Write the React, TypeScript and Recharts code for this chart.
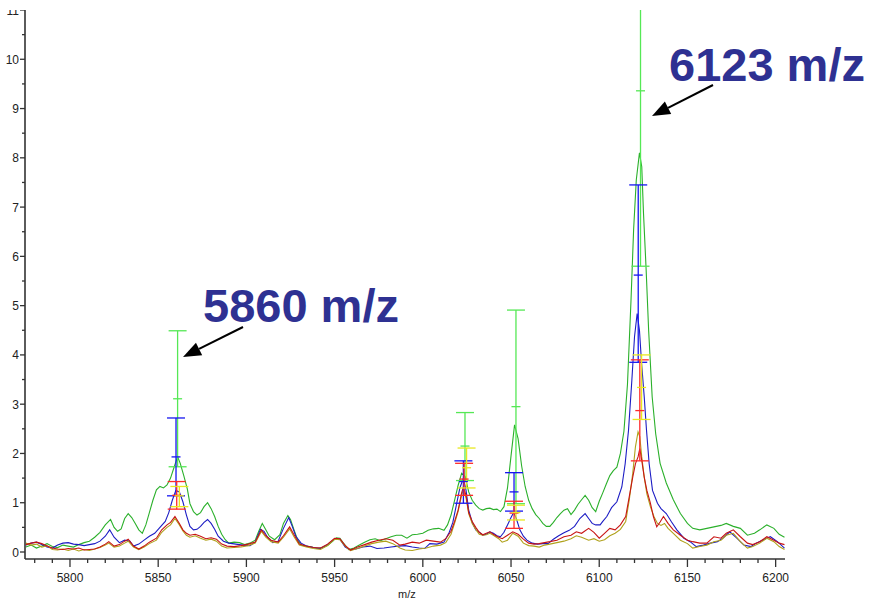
import React from "react";
import { ComposedChart, Line, Scatter, ErrorBar, XAxis, YAxis } from "recharts";

// ---- Data (m/z, intensity) ----
const greenSeries: [number, number][] = [
  [5775,0.10],[5778,0.14],[5781,0.08],[5784,0.12],[5787,0.17],[5790,0.11],[5793,0.09],[5796,0.14],[5799,0.12],
  [5802,0.10],[5805,0.15],[5808,0.19],[5811,0.22],[5814,0.30],[5817,0.40],[5820,0.55],[5823,0.66],[5825,0.50],
  [5827,0.42],[5829,0.47],[5831,0.68],[5833,0.78],[5835,0.70],[5837,0.58],[5839,0.45],[5841,0.38],[5843,0.55],
  [5845,0.80],[5847,1.05],[5849,1.26],[5851,1.33],[5853,1.30],[5855,1.36],[5857,1.50],[5859,1.72],[5861,1.93],
  [5862.5,1.80],[5864.5,1.55],[5866.5,1.28],[5868,0.98],[5870,0.82],[5872,0.75],[5874,0.80],[5876,0.92],[5878,1.00],
  [5880,0.88],[5882,0.72],[5884,0.52],[5886,0.36],[5888,0.25],[5890,0.18],[5893,0.20],[5896,0.19],[5899,0.15],
  [5902,0.18],[5905,0.24],[5907,0.42],[5909,0.58],[5911,0.45],[5913,0.32],[5916,0.25],[5919,0.35],[5921,0.58],
  [5923.5,0.74],[5925,0.66],[5927,0.45],[5929,0.25],[5931,0.14],[5934,0.12],[5937,0.10],[5940,0.07],[5943,0.09],
  [5946,0.13],[5949,0.22],[5951,0.29],[5953,0.28],[5955,0.18],[5958,0.05],[5961,0.08],[5964,0.14],[5967,0.20],
  [5970,0.25],[5973,0.27],[5976,0.23],[5979,0.27],[5982,0.31],[5985,0.34],[5988,0.34],[5991,0.28],[5994,0.35],
  [5997,0.36],[6000,0.38],[6003,0.44],[6006,0.47],[6009,0.48],[6012,0.44],[6014,0.55],[6016,0.75],[6018,1.05],
  [6020,1.35],[6022,1.60],[6024,1.53],[6026,1.22],[6028,1.05],[6030,0.95],[6032,0.88],[6034,0.85],[6036,0.88],
  [6038,0.89],[6040,0.86],[6042,0.87],[6044,0.82],[6046,0.92],[6048,1.30],[6050,1.95],[6052,2.58],[6054,2.30],
  [6056,1.75],[6058,1.33],[6060,1.05],[6062,0.88],[6064,0.76],[6066,0.68],[6068,0.58],[6070,0.52],[6072,0.52],
  [6074,0.60],[6076,0.70],[6078,0.78],[6080,0.85],[6082,0.88],[6084,0.76],[6086,0.85],[6088,0.97],[6090,1.06],
  [6092,1.15],[6094,1.05],[6096,0.90],[6098,0.82],[6100,1.03],[6102,1.20],[6104,1.38],[6106,1.55],[6108,1.65],
  [6110,1.72],[6112,2.00],[6114,2.45],[6116,3.40],[6118,5.10],[6119.5,6.55],[6121,7.55],[6122.8,8.10],[6124.1,7.82],
  [6125.1,6.87],[6126.6,5.72],[6128,4.50],[6130,3.15],[6132,2.40],[6134.5,1.80],[6138,1.40],[6142,1.06],[6146,0.78],
  [6150,0.58],[6153,0.48],[6157,0.45],[6161,0.48],[6165,0.51],[6169,0.54],[6172,0.58],[6176,0.52],[6180,0.48],
  [6184,0.34],[6188,0.38],[6191,0.45],[6195,0.55],[6199,0.48],[6202,0.36],[6205,0.30],
];

const blueSeries: [number, number][] = [
  [5775,0.14],[5778,0.18],[5781,0.20],[5784,0.15],[5787,0.10],[5790,0.08],[5793,0.14],[5796,0.18],[5799,0.19],
  [5802,0.16],[5805,0.15],[5808,0.13],[5811,0.15],[5814,0.17],[5817,0.22],[5820,0.32],[5822.5,0.45],[5825,0.30],
  [5828,0.19],[5831,0.24],[5834,0.22],[5836,0.12],[5839,0.16],[5842,0.24],[5845,0.32],[5848,0.38],[5851,0.50],
  [5854,0.62],[5856,0.80],[5858,1.05],[5860,1.25],[5862,1.22],[5864,1.02],[5866,0.75],[5868,0.52],[5870,0.45],
  [5872,0.46],[5874,0.52],[5876,0.60],[5878,0.66],[5880,0.58],[5882,0.46],[5884,0.32],[5887,0.22],[5890,0.18],
  [5894,0.16],[5898,0.14],[5902,0.13],[5905,0.20],[5908,0.46],[5910,0.42],[5912,0.30],[5915,0.19],[5918,0.22],
  [5921,0.48],[5924,0.70],[5926,0.52],[5928,0.32],[5931,0.18],[5934,0.12],[5938,0.09],[5942,0.07],[5946,0.15],
  [5950,0.27],[5953,0.26],[5956,0.10],[5959,0.04],[5962,0.06],[5966,0.10],[5970,0.12],[5974,0.07],[5978,0.08],
  [5982,0.10],[5986,0.12],[5990,0.13],[5994,0.10],[5998,0.08],[6001,0.07],[6004,0.17],[6008,0.16],[6012,0.20],
  [6015,0.40],[6017,0.60],[6019,0.95],[6021,1.30],[6023,1.50],[6024.5,1.25],[6026,0.85],[6028,0.60],[6030,0.45],
  [6032,0.40],[6034,0.34],[6036,0.36],[6038,0.41],[6040,0.38],[6042,0.33],[6044,0.31],[6046,0.40],[6048,0.55],
  [6050,0.70],[6051.5,0.80],[6053,0.68],[6055,0.45],[6057,0.32],[6059,0.24],[6062,0.18],[6065,0.16],[6068,0.17],
  [6071,0.17],[6074,0.26],[6077,0.33],[6080,0.39],[6083,0.44],[6086,0.52],[6089,0.68],[6092,0.78],[6094,0.68],
  [6096,0.58],[6098,0.55],[6100.5,0.55],[6102,0.62],[6104.3,0.72],[6107,0.90],[6110,1.02],[6112.8,1.32],[6114.7,1.79],
  [6116.6,2.47],[6118.5,3.49],[6120,4.37],[6121.5,4.84],[6122.8,4.50],[6124,3.83],[6125.5,3.15],[6126.8,2.47],
  [6128.3,1.79],[6130.2,1.25],[6133,0.99],[6135,0.88],[6138,0.78],[6141,0.61],[6144,0.45],[6148,0.28],[6151.5,0.21],
  [6155,0.11],[6159,0.14],[6163,0.18],[6167,0.21],[6170,0.28],[6174,0.41],[6178,0.28],[6182,0.14],[6186,0.11],
  [6189,0.18],[6193,0.25],[6197,0.31],[6201,0.21],[6205,0.08],
];

const redSeries: [number, number][] = [
  [5775,0.15],[5778,0.18],[5781,0.20],[5784,0.17],[5787,0.12],[5790,0.08],[5793,0.06],[5796,0.05],[5799,0.07],
  [5802,0.06],[5805,0.08],[5808,0.04],[5811,0.05],[5814,0.06],[5817,0.10],[5820,0.16],[5822,0.21],[5825,0.12],
  [5828,0.15],[5831,0.22],[5833,0.26],[5836,0.12],[5839,0.06],[5842,0.12],[5845,0.20],[5849,0.28],[5852,0.45],
  [5855,0.55],[5857,0.60],[5859.5,0.72],[5862,0.58],[5864,0.45],[5866,0.38],[5868,0.34],[5871,0.36],[5874,0.32],
  [5877,0.27],[5880,0.29],[5883,0.26],[5886,0.16],[5889,0.12],[5893,0.11],[5897,0.13],[5901,0.16],[5905,0.20],
  [5908.5,0.45],[5911,0.33],[5914,0.24],[5918,0.20],[5921,0.33],[5924.5,0.51],[5927,0.35],[5930,0.16],[5934,0.12],
  [5938,0.09],[5942,0.08],[5946,0.16],[5950,0.28],[5953,0.27],[5956,0.13],[5959,0.04],[5963,0.10],[5967,0.15],
  [5971,0.20],[5975,0.24],[5979,0.27],[5983,0.24],[5987,0.14],[5990,0.16],[5994,0.20],[5998,0.18],[6002,0.24],
  [6006,0.22],[6010,0.20],[6013,0.27],[6016,0.42],[6018,0.62],[6020,0.85],[6022,1.20],[6023,1.32],[6024.5,1.15],
  [6026,0.80],[6028,0.62],[6030,0.50],[6032,0.40],[6034,0.35],[6036,0.38],[6038,0.41],[6040,0.36],[6043,0.30],
  [6045,0.27],[6048,0.34],[6051,0.41],[6054,0.36],[6057,0.26],[6060,0.18],[6063,0.16],[6066,0.17],[6069,0.19],
  [6072,0.21],[6076,0.24],[6080,0.31],[6084,0.34],[6087,0.41],[6090,0.38],[6094,0.48],[6097,0.40],[6100,0.28],
  [6103,0.38],[6106,0.48],[6109,0.45],[6112,0.55],[6115,0.72],[6117,1.12],[6119,1.52],[6120.5,1.79],[6122,1.93],
  [6123,2.10],[6124.1,1.86],[6125.5,1.52],[6127,1.25],[6129,0.99],[6130.7,0.72],[6132.6,0.51],[6134.5,0.61],
  [6136.4,0.72],[6139,0.58],[6142,0.45],[6146,0.34],[6150,0.24],[6153,0.21],[6157,0.18],[6161,0.18],[6165,0.31],
  [6169,0.28],[6172,0.38],[6176,0.45],[6180,0.31],[6184,0.18],[6187,0.15],[6191,0.21],[6195,0.31],[6199,0.24],
  [6202,0.18],[6205,0.15],
];

const yellowSeries: [number, number][] = [
  [5775,0.18],[5778,0.14],[5781,0.16],[5784,0.10],[5787,0.13],[5790,0.05],[5793,0.04],[5796,0.06],[5799,0.03],
  [5802,0.06],[5805,0.02],[5808,0.05],[5811,0.03],[5814,0.06],[5817,0.09],[5820,0.14],[5822,0.18],[5825,0.10],
  [5828,0.12],[5831,0.18],[5833,0.22],[5836,0.10],[5839,0.05],[5842,0.10],[5845,0.17],[5849,0.24],[5852,0.40],
  [5855,0.50],[5857,0.55],[5859.5,0.68],[5862,0.55],[5864,0.43],[5866,0.34],[5868,0.30],[5871,0.33],[5874,0.28],
  [5877,0.24],[5880,0.26],[5883,0.22],[5886,0.12],[5889,0.08],[5893,0.09],[5897,0.10],[5901,0.13],[5905,0.18],
  [5908.5,0.42],[5911,0.30],[5914,0.21],[5918,0.18],[5921,0.30],[5924.5,0.47],[5927,0.31],[5930,0.14],[5934,0.10],
  [5938,0.07],[5942,0.05],[5946,0.13],[5950,0.26],[5953,0.25],[5956,0.12],[5959,0.03],[5963,0.07],[5967,0.12],
  [5971,0.17],[5975,0.20],[5979,0.22],[5983,0.17],[5987,0.08],[5990,0.04],[5994,0.03],[5998,0.06],[6002,0.08],
  [6006,0.12],[6010,0.14],[6013,0.19],[6016,0.36],[6018,0.58],[6020,0.82],[6022,1.15],[6023,1.27],[6024.5,1.10],
  [6026,0.78],[6028,0.58],[6030,0.46],[6032,0.36],[6034,0.34],[6036,0.35],[6038,0.38],[6040,0.34],[6043,0.27],
  [6045,0.20],[6048,0.24],[6051,0.38],[6054,0.32],[6057,0.18],[6060,0.13],[6063,0.12],[6066,0.10],[6069,0.14],
  [6072,0.16],[6076,0.19],[6080,0.22],[6084,0.27],[6087,0.33],[6090,0.30],[6094,0.24],[6097,0.27],[6100,0.22],
  [6103,0.25],[6106,0.33],[6109,0.38],[6112,0.46],[6115,0.62],[6117,1.05],[6119,1.60],[6120.5,2.13],[6122,2.44],
  [6123,2.34],[6124.1,1.93],[6125.5,1.52],[6127,1.18],[6129,0.92],[6131,0.72],[6133,0.58],[6135,0.54],[6137,0.58],
  [6139,0.48],[6142,0.38],[6146,0.24],[6150,0.17],[6153,0.08],[6157,0.11],[6161,0.14],[6165,0.21],[6169,0.24],
  [6172,0.34],[6176,0.38],[6180,0.21],[6184,0.08],[6187,0.11],[6191,0.18],[6195,0.28],[6199,0.21],[6202,0.11],
  [6205,0.05],
];

// error bars: [m/z, low, mid, high]
const greenBars: [number, number, number, number][] = [
  [5861, 1.73, 3.11, 4.49], [6023.9, 1.45, 2.15, 2.83], [6052.8, 0.98, 2.95, 4.91], [6123.4, 5.8, 9.36, 12.9],
];
const blueBars: [number, number, number, number][] = [
  [5860.1, 1.14, 1.93, 2.72], [6023, 0.99, 1.43, 1.85], [6051.7, 0.83, 1.22, 1.61], [6122.1, 3.85, 5.62, 7.45],
];
const redBars: [number, number, number, number][] = [
  [5860.5, 0.87, 1.15, 1.43], [6023.4, 1.15, 1.48, 1.8], [6051.7, 0.48, 0.79, 1.03], [6123, 1.85, 2.87, 3.9],
];
const yellowBars: [number, number, number, number][] = [
  [5862, 0.92, 1.14, 1.33], [6024.8, 1.3, 1.71, 2.11], [6052.8, 0.65, 0.8, 0.95], [6124, 2.69, 3.34, 4.0],
];

const xMajorTicks = [5800, 5850, 5900, 5950, 6000, 6050, 6100, 6150, 6200];
const yMajorTicks = [0, 1, 2, 3, 4, 5, 6, 7, 8, 9, 10, 11];
const annotations = [
  { text: "5860 m/z", x: 203, y: 322, tail: [243, 327], tip: [183, 357] },
  { text: "6123 m/z", x: 669, y: 81, tail: [713, 85], tip: [652, 116] },
];

const xTicks: number[] = [];
for (let v = 5780; v <= 6200; v += 10) xTicks.push(v);
const yTicks: number[] = [];
for (let v = 0; v <= 22; v++) yTicks.push(v / 2);

const toLine = (s: [number, number][]) => s.map(([mz, v]) => ({ mz, v }));
const toBars = (s: [number, number, number, number][]) =>
  s.map(([mz, lo, mid, hi]) => ({ mz, mid, err: [mid - lo, hi - mid] }));

const AXIS = "#333";
const FONT = "'Liberation Sans', Arial, sans-serif";

const XTick = (props: any) => {
  const { x, y, payload } = props;
  const major = xMajorTicks.includes(payload.value);
  return (
    <g>
      <line x1={x} x2={x} y1={y} y2={y + (major ? 8 : 4)} stroke={AXIS} strokeWidth={1.3} />
      {major && (
        <text x={x} y={y + 23} textAnchor="middle" fontSize={12} fill="#222" fontFamily={FONT}>
          {payload.value}
        </text>
      )}
    </g>
  );
};

const YTick = (props: any) => {
  const { x, y, payload } = props;
  const major = yMajorTicks.includes(payload.value);
  return (
    <g>
      <line x1={x - (major ? 5 : 3)} x2={x} y1={y} y2={y} stroke={AXIS} strokeWidth={1.3} />
      {major && (
        <text x={x - 6} y={y + 4.5} textAnchor="end" fontSize={12} fill="#222" fontFamily={FONT}>
          {payload.value}
        </text>
      )}
    </g>
  );
};

const midCap = (color: string) => (props: any) => {
  const { cx, cy } = props;
  if (cx == null || cy == null) return <g />;
  return <line x1={cx - 4.5} x2={cx + 4.5} y1={cy} y2={cy} stroke={color} strokeWidth={1.3} />;
};

const Arrow = ({ tail, tip }: { tail: number[]; tip: number[] }) => {
  const dx = tip[0] - tail[0];
  const dy = tip[1] - tail[1];
  const len = Math.hypot(dx, dy);
  const ux = dx / len, uy = dy / len;
  const hl = 18, hw = 7;
  const bx = tip[0] - ux * hl, by = tip[1] - uy * hl;
  const px = -uy * hw, py = ux * hw;
  return (
    <g>
      <line x1={tail[0]} y1={tail[1]} x2={bx} y2={by} stroke="#000" strokeWidth={2} />
      <polygon points={`${tip[0]},${tip[1]} ${bx + px},${by + py} ${bx - px},${by - py}`} fill="#000" />
    </g>
  );
};

const seriesDefs = [
  { key: "g", data: toLine(greenSeries), color: "#2bb02b" },
  { key: "b", data: toLine(blueSeries), color: "#1c1cc4" },
  { key: "y", data: toLine(yellowSeries), color: "#b0a21c" },
  { key: "r", data: toLine(redSeries), color: "#c81414" },
];
const barDefs = [
  { key: "gb", data: toBars(greenBars), color: "#55e855" },
  { key: "bb", data: toBars(blueBars), color: "#1515f0" },
  { key: "rb", data: toBars(redBars), color: "#ff2a2a" },
  { key: "yb", data: toBars(yellowBars), color: "#e8e820" },
];

export default function App() {
  return (
    <div style={{ position: "absolute", left: 0, top: 0, width: 874, height: 602, background: "#fff", overflow: "hidden", fontFamily: FONT }}>
      <div style={{ position: "absolute", left: 0, top: 10 }}>
        <ComposedChart width={874} height={592} margin={{ top: 0, right: 89, bottom: 0, left: 0 }}>
          <XAxis
            dataKey="mz"
            type="number"
            domain={[5774.5, 6205.3]}
            allowDataOverflow
            ticks={xTicks}
            interval={0}
            tickSize={0}
            tickMargin={0}
            tickLine={false}
            tick={<XTick />}
            height={43}
            axisLine={{ stroke: AXIS, strokeWidth: 1.6 }}
          />
          <YAxis
            type="number"
            domain={[-0.142, 11]}
            allowDataOverflow
            ticks={yTicks}
            interval={0}
            tickSize={0}
            tickMargin={0}
            tickLine={false}
            tick={<YTick />}
            width={25}
            axisLine={{ stroke: AXIS, strokeWidth: 1.6 }}
          />
          {seriesDefs.map((s) => (
            <Line
              key={s.key}
              data={s.data}
              dataKey="v"
              type="linear"
              stroke={s.color}
              strokeWidth={1.1}
              dot={false}
              activeDot={false}
              isAnimationActive={false}
            />
          ))}
          {barDefs.map((b) => (
            <Scatter key={b.key} data={b.data} dataKey="mid" shape={midCap(b.color)} isAnimationActive={false}>
              <ErrorBar dataKey="err" direction="y" width={9} stroke={b.color} strokeWidth={1.3} isAnimationActive={false} />
            </Scatter>
          ))}
        </ComposedChart>
        <div style={{ position: "absolute", left: 398, top: 578, fontSize: 11, color: "#222" }}>m/z</div>
      </div>
      <svg width={874} height={602} style={{ position: "absolute", left: 0, top: 0, pointerEvents: "none" }}>
        {annotations.map((a) => (
          <g key={a.text}>
            <text x={a.x} y={a.y} fontSize={47} fontWeight="bold" fill="#2e3192" fontFamily={FONT}>
              {a.text}
            </text>
            <Arrow tail={a.tail} tip={a.tip} />
          </g>
        ))}
      </svg>
    </div>
  );
}
